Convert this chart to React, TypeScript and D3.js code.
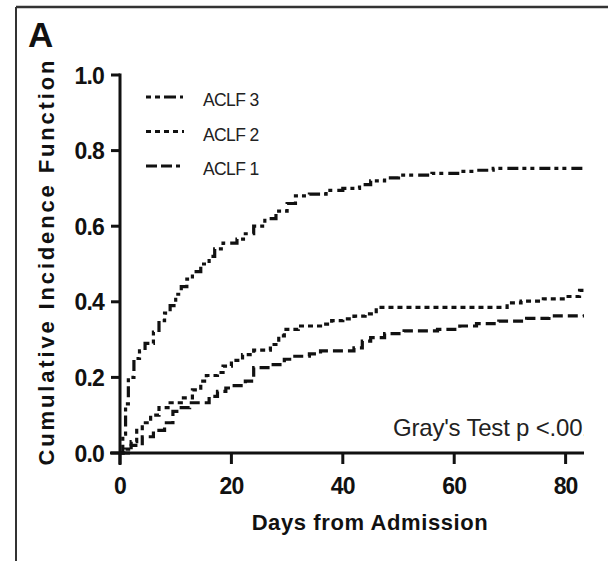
import React from "react";
import * as d3 from "d3";

const yTicks = [0, 0.2, 0.4, 0.6, 0.8, 1.0];
const xTicks = [0, 20, 40, 60, 80];

const aclf3: [number, number][] = [
  [0, 0], [0.5, 0.05], [1, 0.13], [1.5, 0.2], [2.5, 0.25], [3.5, 0.27], [4.5, 0.29], [6, 0.32],
  [7, 0.35], [8, 0.37], [9, 0.39], [10, 0.42], [11, 0.44], [12, 0.46], [13, 0.48], [14.5, 0.5],
  [16, 0.52], [17, 0.54], [18.5, 0.555], [21, 0.566], [22.5, 0.58], [24, 0.6], [26, 0.62],
  [28, 0.64], [30, 0.66], [31.5, 0.68], [34, 0.685], [37, 0.695], [40, 0.7], [43, 0.71],
  [45, 0.72], [47.5, 0.728], [50, 0.735], [56, 0.74], [61, 0.745], [64, 0.748], [67, 0.753],
  [83.3, 0.753],
];

const aclf2: [number, number][] = [
  [0, 0], [1, 0.01], [2, 0.03], [3, 0.06], [4, 0.08], [5.5, 0.1], [7, 0.12], [9, 0.133],
  [11, 0.146], [13, 0.167], [14.5, 0.19], [15.5, 0.205], [17.5, 0.213], [18.5, 0.23], [20, 0.245],
  [22, 0.26], [24, 0.272], [27, 0.287], [28.5, 0.31], [29.5, 0.327], [32, 0.336], [36, 0.341],
  [38, 0.35], [40, 0.355], [42, 0.362], [44, 0.368], [46, 0.385], [68.5, 0.385], [69.5, 0.397],
  [72, 0.402], [76, 0.408], [80, 0.414], [82.5, 0.43], [83.3, 0.43],
];

const aclf1: [number, number][] = [
  [0, 0], [2, 0.02], [4, 0.043], [6, 0.06], [8, 0.08], [9.5, 0.11], [10.5, 0.12], [12.5, 0.133],
  [16, 0.15], [17.5, 0.163], [19, 0.172], [20.5, 0.178], [22.5, 0.19], [24, 0.226], [27.5, 0.234],
  [29.5, 0.248], [31, 0.256], [34, 0.262], [36, 0.27], [42, 0.278], [43.5, 0.296], [45, 0.305],
  [47.5, 0.316], [51, 0.323], [57, 0.327], [61, 0.336], [64, 0.342], [68, 0.349], [73, 0.356],
  [77, 0.363], [83.3, 0.365],
];

const seriesNames = ["ACLF 3", "ACLF 2", "ACLF 1"];
const seriesData = [aclf3, aclf2, aclf1];
const dashes = ["11,4,4,4,4,5", "5,4", "10,5"];
const legendDashes = ["5,4,5,4,12,4,3", "5,4", "11,4,11,4,4"];

export default function App() {
  const x = d3.scaleLinear().domain([0, 83.3]).range([120, 584]);
  const y = d3.scaleLinear().domain([0, 1]).range([453, 75]);
  const line = d3
    .line<[number, number]>()
    .x((d) => x(d[0]))
    .y((d) => y(d[1]))
    .curve(d3.curveStepAfter);
  const font = "'Liberation Sans', Arial, Helvetica, sans-serif";

  return (
    <svg
      width={608}
      height={561}
      style={{ position: "fixed", left: 0, top: 0, background: "#fff" }}
      fontFamily={font}
    >
      <defs>
        <clipPath id="plotclip">
          <rect x={110} y={0} width={474} height={470} />
        </clipPath>
      </defs>
      <rect x={0} y={0} width={608} height={561} fill="#fff" />
      {/* frame */}
      <line x1={16} y1={7} x2={608} y2={7} stroke="#333" strokeWidth={2.5} />
      <line x1={16} y1={7} x2={16} y2={561} stroke="#333" strokeWidth={2} />

      <text x={28} y={47} fontSize={35} fontWeight="bold" fill="#111">A</text>

      {/* y axis label */}
      <text
        transform={`translate(54,${263}) rotate(-90)`}
        textAnchor="middle"
        fontSize={22}
        fontWeight="bold"
        fill="#111"
        textLength={405}
        lengthAdjust="spacing"
      >
        Cumulative Incidence Function
      </text>

      {/* series */}
      <g clipPath="url(#plotclip)">
        {seriesData.map((s, i) => (
          <path
            key={i}
            d={line(s) || ""}
            fill="none"
            stroke="#111"
            strokeWidth={3.2}
            strokeDasharray={dashes[i]}
          />
        ))}
      </g>

      {/* axes */}
      <line x1={x(0)} y1={y(1) - 1.5} x2={x(0)} y2={465} stroke="#111" strokeWidth={3} />
      <line x1={110} y1={y(0)} x2={584} y2={y(0)} stroke="#111" strokeWidth={3} />
      {yTicks.map((t) => (
        <g key={"y" + t}>
          <line x1={111} y1={y(t)} x2={x(0)} y2={y(t)} stroke="#111" strokeWidth={3} />
          <text
            x={104}
            y={y(t) + 8.5}
            textAnchor="end"
            fontSize={23}
            fontWeight="bold"
            fill="#111"
            letterSpacing={-0.8}
          >
            {t.toFixed(1)}
          </text>
        </g>
      ))}
      {xTicks.map((t) => (
        <g key={"x" + t}>
          <line x1={x(t)} y1={y(0)} x2={x(t)} y2={464} stroke="#111" strokeWidth={3} />
          <text
            x={x(t)}
            y={494}
            textAnchor="middle"
            fontSize={23}
            fontWeight="bold"
            fill="#111"
            letterSpacing={-0.8}
          >
            {t}
          </text>
        </g>
      ))}

      <text x={370} y={530} textAnchor="middle" fontSize={22} fontWeight="bold" fill="#111" letterSpacing={0.6}>
        Days from Admission
      </text>

      {/* legend */}
      {seriesNames.map((n, i) => {
        const ly = 97 + i * 34.5;
        return (
          <g key={n}>
            <line
              x1={146}
              y1={ly}
              x2={184}
              y2={ly}
              stroke="#111"
              strokeWidth={3.2}
              strokeDasharray={legendDashes[i]}
            />
            <text x={203} y={ly + 9} fontSize={17.5} fill="#222" letterSpacing={-0.6}>
              {n}
            </text>
          </g>
        );
      })}

      <g clipPath="url(#plotclip)">
        <text x={393} y={436} fontSize={24} fill="#222" letterSpacing={-0.2}>
          Gray's Test p &lt;.001
        </text>
      </g>
    </svg>
  );
}
